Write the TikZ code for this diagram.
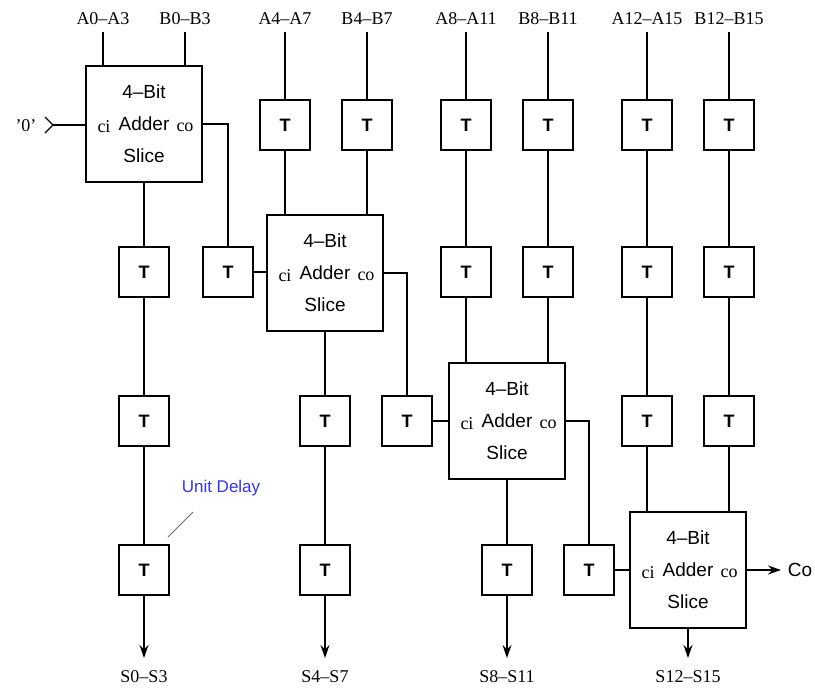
\documentclass[tikz,border=0pt]{standalone}
\usepackage{fontspec}
\setmainfont{Liberation Serif}
\newfontfamily\sansf[Ligatures=TeX]{Liberation Sans}
\usetikzlibrary{arrows.meta}
\definecolor{udblue}{RGB}{55,55,215}
\begin{document}
\begin{tikzpicture}[x=1pt,y=-1pt, line width=1.5pt,
  tbox/.style={draw, fill=white, minimum width=50pt, minimum height=50pt, inner sep=0pt, font=\sansf\bfseries\fontsize{18}{18}\selectfont},
  adder/.style={draw, minimum width=116pt, minimum height=116pt, inner sep=0pt},
  atxt/.style={font=\sansf\fontsize{19}{19}\selectfont, inner sep=0pt},
  ptxt/.style={font=\fontsize{18}{18}\selectfont, inner sep=0pt},
  lbl/.style={font=\fontsize{18}{18}\selectfont, inner sep=0pt},
  arr/.style={-{Stealth[length=13pt,width=9pt]}}
]
\useasboundingbox (0,0) rectangle (815,689);

% adders
\foreach \i/\x/\y in {1/144/124, 2/325/273, 3/507/421, 4/688/570}{
  \node[adder] (a\i) at (\x,\y) {};
  \node[atxt] (a\i-l1) at (\x,{\y-32}) {4--Bit};
  \node[atxt] (a\i-l2) at (\x,\y) {Adder};
  \node[atxt] (a\i-l3) at (\x,{\y+32}) {Slice};
  \node[ptxt] (a\i-ci) at ({\x-40},{\y+3}) {ci};
  \node[ptxt] (a\i-co) at ({\x+41},{\y+3}) {co};
}

% input labels and their start points
\foreach \n/\x/\t in {ia0/103/A0--A3, ib0/185/B0--B3, ia1/285/A4--A7, ib1/367/B4--B7,
  ia2/466/A8--A11, ib2/548/B8--B11, ia3/647/A12--A15, ib3/729/B12--B15}{
  \node[lbl] (\n-t) at (\x,19) {\t};
  \coordinate (\n) at (\x,32);
}

% delay boxes on the inputs
\foreach \n/\x in {ia1/285, ib1/367, ia2/466, ib2/548, ia3/647, ib3/729}{
  \node[tbox] (\n-r1) at (\x,125) {T};
}
\foreach \n/\x in {ia2/466, ib2/548, ia3/647, ib3/729}{
  \node[tbox] (\n-r2) at (\x,272) {T};
}
\foreach \n/\x in {ia3/647, ib3/729}{
  \node[tbox] (\n-r3) at (\x,421) {T};
}

% delay boxes on the outputs
\node[tbox] (s0-r2) at (144,272) {T};
\node[tbox] (s0-r3) at (144,421) {T};
\node[tbox] (s0-r4) at (144,570) {T};
\node[tbox] (s1-r3) at (325,421) {T};
\node[tbox] (s1-r4) at (325,570) {T};
\node[tbox] (s2-r4) at (507,570) {T};

% carry delay boxes
\node[tbox] (c1) at (228,272) {T};
\node[tbox] (c2) at (407,421) {T};
\node[tbox] (c3) at (589,570) {T};

% inputs to adder 1
\draw (ia0) -- (ia0 |- a1.north);
\draw (ib0) -- (ib0 |- a1.north);
% inputs to adder 2
\draw (ia1) -- (ia1-r1.north);
\draw (ia1-r1.south) -- (ia1-r1.south |- a2.north);
\draw (ib1) -- (ib1-r1.north);
\draw (ib1-r1.south) -- (ib1-r1.south |- a2.north);
% inputs to adder 3
\foreach \n in {ia2, ib2}{
  \draw (\n) -- (\n-r1.north);
  \draw (\n-r1.south) -- (\n-r2.north);
  \draw (\n-r2.south) -- (\n-r2.south |- a3.north);
}
% inputs to adder 4
\foreach \n in {ia3, ib3}{
  \draw (\n) -- (\n-r1.north);
  \draw (\n-r1.south) -- (\n-r2.north);
  \draw (\n-r2.south) -- (\n-r3.north);
  \draw (\n-r3.south) -- (\n-r3.south |- a4.north);
}

% carry-in '0'
\node[ptxt] (zero) at (26,126) {'0'};
\coordinate (chev) at (53,125);
\draw[line width=1.2pt] (45,117) -- (chev) -- (45,133);
\draw (chev) -- (chev -| a1.west);

% carry chain
\draw (a1.east |- a1-l2) -- (c1.north |- a1-l2) -- (c1.north);
\draw (c1.east) -- (c1.east -| a2.west);
\draw (a2.east |- a2-l2) -- (c2.north |- a2-l2) -- (c2.north);
\draw (c2.east) -- (c2.east -| a3.west);
\draw (a3.east |- a3-l2) -- (c3.north |- a3-l2) -- (c3.north);
\draw (c3.east) -- (c3.east -| a4.west);
\coordinate (coend) at (781,570);
\draw[arr] (a4.east) -- (coend);
\node[atxt] (colbl) at (800,570) {Co};

% outputs
\coordinate (o0) at (144,658);
\coordinate (o1) at (325,658);
\coordinate (o2) at (507,658);
\coordinate (o3) at (688,658);
\draw (a1.south) -- (s0-r2.north);
\draw (s0-r2.south) -- (s0-r3.north);
\draw (s0-r3.south) -- (s0-r4.north);
\draw[arr] (s0-r4.south) -- (o0);
\draw (a2.south) -- (s1-r3.north);
\draw (s1-r3.south) -- (s1-r4.north);
\draw[arr] (s1-r4.south) -- (o1);
\draw (a3.south) -- (s2-r4.north);
\draw[arr] (s2-r4.south) -- (o2);
\draw[arr] (a4.south) -- (o3);
\node[lbl] (o0-t) at (144,677) {S0--S3};
\node[lbl] (o1-t) at (325,677) {S4--S7};
\node[lbl] (o2-t) at (507,677) {S8--S11};
\node[lbl] (o3-t) at (688,677) {S12--S15};

% annotation
\node[font=\sansf\fontsize{17}{17}\selectfont, text=udblue, inner sep=0pt] (ud) at (221,488) {Unit Delay};
\coordinate (ud1) at (193,512);
\coordinate (ud2) at (168,537);
\draw[gray!80!black, line width=1pt] (ud1) -- (ud2);
\end{tikzpicture}
\end{document}
